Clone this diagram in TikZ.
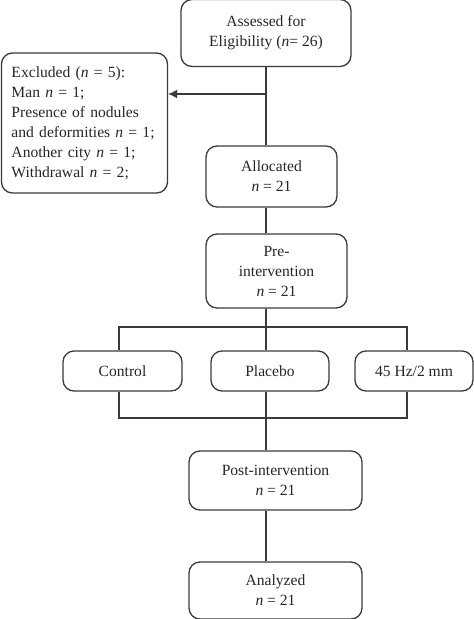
\documentclass[tikz,border=0pt]{standalone}
\usepackage{fontspec}
\setmainfont{Liberation Serif}
\usetikzlibrary{arrows.meta}
\definecolor{ln}{HTML}{3A3A3A}
\begin{document}
\begin{tikzpicture}[x=1pt,y=-1pt,
  box/.style={draw=ln,line width=1.3pt,rounded corners=11pt,inner sep=0pt,align=center,
    font=\fontsize{15.6}{20}\selectfont,text=black!85},
  conn/.style={draw=ln,line width=1.3pt}]
\useasboundingbox (0,0) rectangle (474,619);
\begin{scope}
\clip (0,0) rectangle (474,619);
\node[box,minimum width=170pt,minimum height=67pt] (assess) at (266,33) {Assessed for\\Eligibility (\textit{n}= 26)};
\node[box,minimum width=166pt,minimum height=140pt,align=left,text width=146pt] (excl) at (84.5,123)
  {Excluded (\textit{n} = 5):\\Man \textit{n} = 1;\\Presence of nodules\\and deformities \textit{n} = 1;\\Another city \textit{n} = 1;\\Withdrawal \textit{n} = 2;};
\node[box,minimum width=131pt,minimum height=61pt] (alloc) at (271.5,176.5) {Allocated\\\textit{n} = 21};
\node[box,minimum width=141pt,minimum height=74pt] (pre) at (276.5,271) {Pre-\\intervention\\\textit{n} = 21};
\node[box,minimum width=119pt,minimum height=40pt] (ctrl) at (122.5,371) {Control};
\node[box,minimum width=118pt,minimum height=40pt] (plac) at (270,371) {Placebo};
\node[box,minimum width=118pt,minimum height=40pt] (hz) at (414,371) {45 Hz/2 mm};
\node[box,minimum width=173pt,minimum height=59pt] (post) at (275.5,480.5) {Post-intervention\\\textit{n} = 21};
\node[box,minimum width=173pt,minimum height=57pt] (anal) at (275.5,590.5) {Analyzed\\\textit{n} = 21};
\end{scope}
\coordinate (spine) at (266,0);
\coordinate (split) at (266,94);
\coordinate (bl) at (119,327);
\coordinate (br) at (407,327);
\coordinate (jl) at (119,418);
\coordinate (jr) at (407,418);
\draw[conn] (assess.south -| spine) -- (alloc.north -| spine);
\draw[conn,-{Latex[length=9pt,width=9pt]}] (split) -- (excl.east |- split);
\draw[conn] (alloc.south -| spine) -- (pre.north -| spine);
\draw[conn] (pre.south -| spine) -- (plac.north -| spine);
\draw[conn] (ctrl.north -| bl) -- (bl) -- (br) -- (hz.north -| br);
\draw[conn] (ctrl.south -| jl) -- (jl) -- (jr) -- (hz.south -| jr);
\draw[conn] (plac.south -| spine) -- (post.north -| spine);
\draw[conn] (post.south -| spine) -- (anal.north -| spine);
\end{tikzpicture}
\end{document}
